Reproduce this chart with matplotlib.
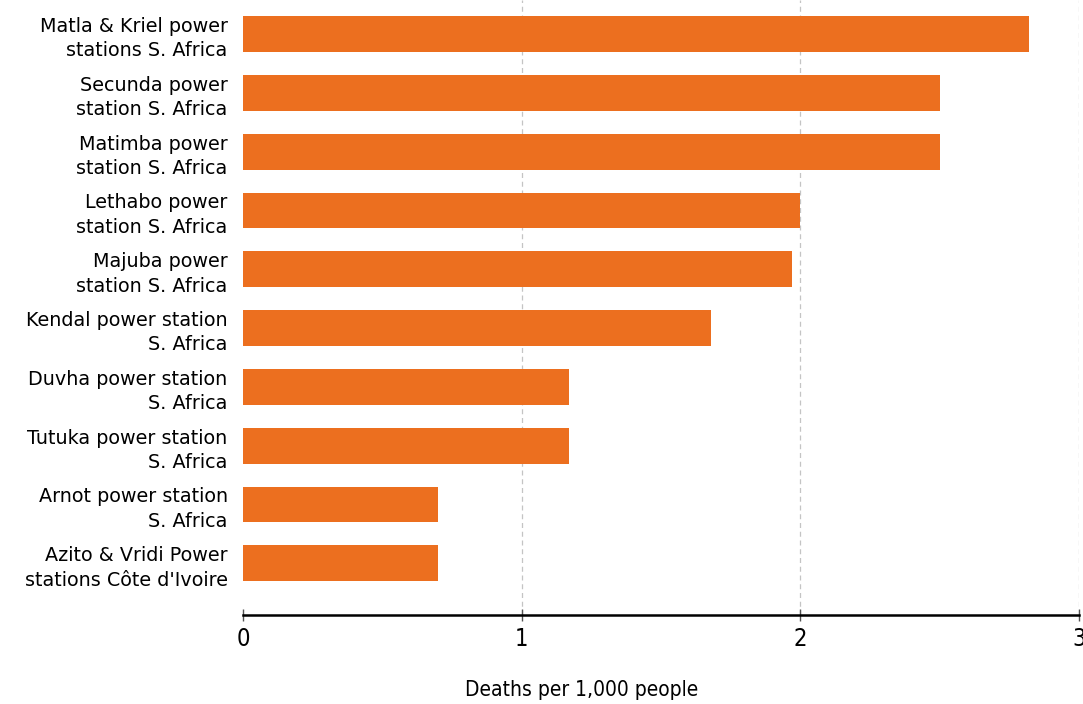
import matplotlib.pyplot as plt

# Plants and death rates (deaths per 1,000 people)
stations = [
    "Matla & Kriel power\nstations S. Africa",
    "Secunda power\nstation S. Africa",
    "Matimba power\nstation S. Africa",
    "Lethabo power\nstation S. Africa",
    "Majuba power\nstation S. Africa",
    "Kendal power station\nS. Africa",
    "Duvha power station\nS. Africa",
    "Tutuka power station\nS. Africa",
    "Arnot power station\nS. Africa",
    "Azito & Vridi Power\nstations Côte d'Ivoire",
]
deaths = [2.82, 2.5, 2.5, 2.0, 1.97, 1.68, 1.17, 1.17, 0.7, 0.7]
xticks = [0, 1, 2, 3]

cor_barra = "#EC6F1F"

fig = plt.figure(figsize=(10.83, 7.04), dpi=100)
ax = fig.add_axes([243 / 1083, 1 - 615 / 704, 836 / 1083, 615 / 704])

pos = list(range(len(stations)))
ax.barh(pos, deaths, height=0.61, color=cor_barra, zorder=3)

ax.set_xlim(0, 3)
ax.set_ylim(len(stations) - 1 + 0.88, -0.58)

ax.set_yticks(pos)
ax.set_yticklabels(stations, fontsize=13.8, ha="right", linespacing=1.35)
ax.tick_params(axis="y", length=0, pad=11)

ax.set_xticks(xticks)
ax.set_xticklabels([str(t) for t in xticks], fontsize=17, fontstretch="condensed")
ax.tick_params(axis="x", direction="inout", length=8, width=1, color="#555555", pad=5)

# grade tracejada vertical
for t in xticks[1:]:
    ax.axvline(t, color="#c4c4c4", lw=0.9, ls=(0, (4, 3)), zorder=1)

for lado in ["top", "right", "left"]:
    ax.spines[lado].set_visible(False)
ax.spines["bottom"].set_linewidth(1.8)
ax.spines["bottom"].set_color("black")

fig.text(582 / 1083, 1 - 690 / 704, "Deaths per 1,000 people", fontsize=15,
         fontstretch="condensed", ha="center", va="center")

fig.savefig("out.png", dpi=100, facecolor="white")
